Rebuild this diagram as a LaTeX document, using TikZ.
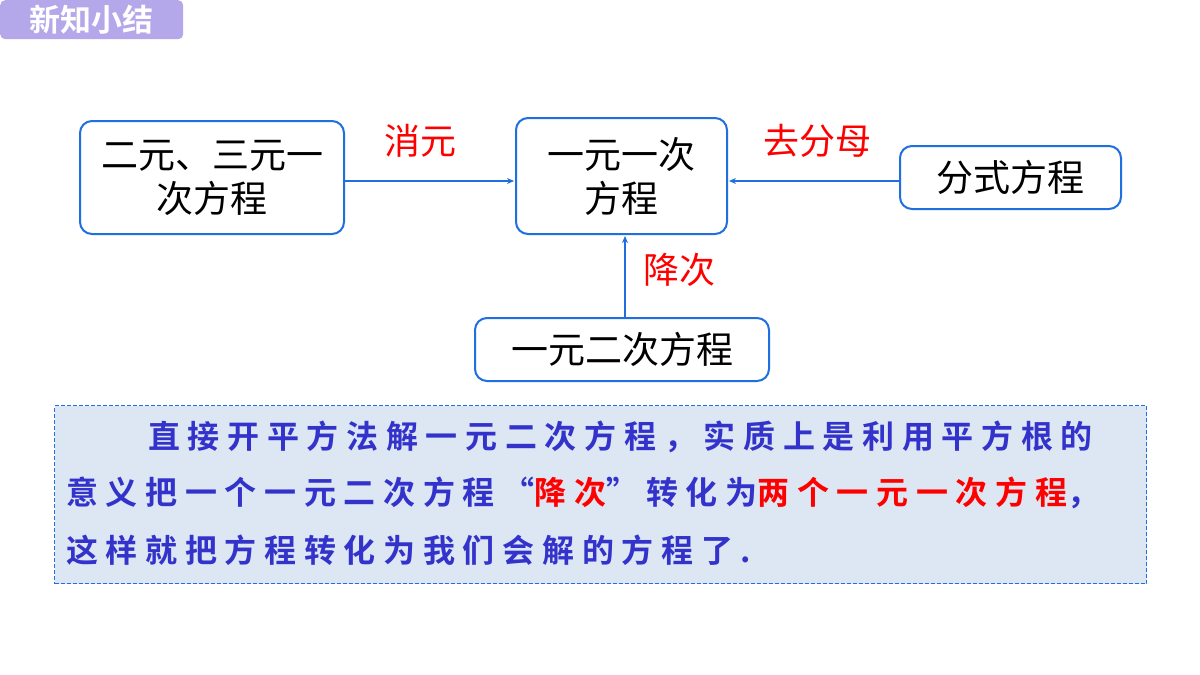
\documentclass[tikz,border=0pt]{standalone}
\usepackage{fontspec}
\newfontfamily\cjk{Noto Sans CJK SC}
\newfontfamily\cjkt{Noto Sans CJK SC Bold}
\newfontfamily\cjkb[LetterSpace=24]{Noto Sans CJK SC Bold}
\usetikzlibrary{arrows.meta}
\definecolor{bb}{HTML}{1F6FE0}
\definecolor{tb}{HTML}{3333CC}
\definecolor{fillb}{HTML}{DDE7F3}
\definecolor{tt}{HTML}{B4A8EA}
\begin{document}
\begin{tikzpicture}[x=1pt,y=-1pt,
 box/.style={draw=bb,line width=2pt,rounded corners=12pt,align=center,font=\cjk\fontsize{37}{44}\selectfont},
 arr/.style={draw=bb,line width=1.3pt,-{Stealth[length=7pt,width=6pt]}},
 lab/.style={text=red,font=\cjk\fontsize{36}{40}\selectfont},
 ln/.style={anchor=west,text=tb,font=\cjkb\fontsize{32}{36}\selectfont,inner sep=0}]
\useasboundingbox (0,0) rectangle (1200,675);
\fill[white] (0,0) rectangle (1200,675);
\node[fill=tt,rounded corners=5pt,minimum width=183pt,minimum height=39pt,text=white,font=\cjkt\fontsize{31}{32}\selectfont,anchor=north west,inner sep=0] (t) at (0,0) {新知小结};
\node[box,minimum width=264pt,minimum height=113pt] (A) at (212,177.5) {二元、三元一\\次方程};
\node[box,minimum width=211pt,minimum height=116pt] (B) at (621.5,176) {一元一次\\方程};
\node[box,minimum width=221pt,minimum height=63pt] (C) at (1010.5,177.5) {分式方程};
\node[box,minimum width=294pt,minimum height=63pt] (D) at (622,349.5) {一元二次方程};
\coordinate (a1) at (345,181); \coordinate (b1) at (514,181);
\coordinate (c1) at (899,181); \coordinate (b2) at (729,181);
\coordinate (d1) at (625,317); \coordinate (b3) at (625,236);
\draw[arr] (a1) -- (b1);
\draw[arr] (c1) -- (b2);
\draw[arr] (d1) -- (b3);
\node[lab] (l1) at (420,141) {消元};
\node[lab] (l2) at (817,141) {去分母};
\node[lab] (l3) at (679,270) {降次};
\node[draw=bb,dash pattern=on 4pt off 2pt,line width=1.3pt,fill=fillb,minimum width=1092pt,minimum height=178pt,anchor=north west,inner sep=0] (T) at (54,405) {};
\node[ln] (r1) at (148,437) {直接开平方法解一元二次方程，实质上是利用平方根的};
\node[ln] (r2) at (66,493) {意义把一个一元二次方程“\textcolor{red}{降次}”转化为\textcolor{red}{两个一元一次方程}，};
\node[ln] (r3) at (66,550) {这样就把方程转化为我们会解的方程了.};
\end{tikzpicture}
\end{document}
